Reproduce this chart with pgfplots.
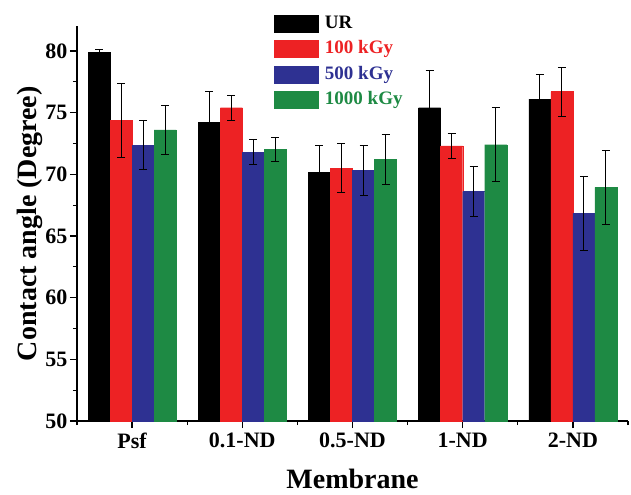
\documentclass[border=0pt]{standalone}
\usepackage{fontspec}
\setmainfont{Liberation Serif}
\usepackage{pgfplots}
\pgfplotsset{compat=1.18}
\definecolor{cred}{RGB}{237,34,36}
\definecolor{cblue}{RGB}{46,49,146}
\definecolor{cgreen}{RGB}{30,138,68}
\begin{document}
\begin{tikzpicture}
\useasboundingbox (-38.5pt,-36.5pt) rectangle (277pt,210.5pt);
\begin{axis}[
 at={(0,0)}, anchor=south west,
 scale only axis, width=275.5pt, height=197.35pt,
 xmin=-0.5, xmax=4.5, ymin=50, ymax=82,
 axis x line=bottom, axis y line=left,
 axis line style={-, line width=0.7pt},
 ybar=0pt, bar width=0.2,
 xtick={0,...,4}, xticklabels={Psf,0.1-ND,0.5-ND,1-ND,2-ND},
 minor xtick={-0.5,0.5,1.5,2.5,3.5,4.5},
 ytick={50,55,...,80}, minor ytick={52.5,57.5,...,77.5},
 tick align=outside, major tick length=3.5pt, minor tick length=2pt,
 tick style={line width=0.6pt, black},
 /pgf/number format/assume math mode=true,
 tick label style={font=\fontsize{11}{13}\selectfont\bfseries},
 yticklabel style={xshift=2.2pt},
 xticklabel style={yshift=1pt},
 xlabel={Membrane}, ylabel={Contact angle (Degree)},
 label style={font=\fontsize{14}{16}\selectfont\bfseries},
 xlabel style={at={(axis description cs:0.5,-0.147)}, anchor=center},
 ylabel style={at={(axis description cs:-0.086,0.5)}, anchor=center},
 legend style={at={(0.356,1.037)}, anchor=north west, draw=none, fill=none,
   font=\fontsize{9.5}{11}\selectfont\bfseries, row sep=0.6pt, inner sep=0pt,
   nodes={inner xsep=3.5pt}},
 legend cell align=left,
 legend image code/.code={\fill[#1] (0pt,-4.25pt) rectangle (22pt,4.25pt);},
 error bars/error bar style={black, line width=0.5pt},
 error bars/error mark options={rotate=90, mark size=2pt, black, line width=0.5pt},
]
\addplot[fill=black, draw=black, line width=0.2pt, error bars/.cd, y dir=both, y explicit]
 coordinates {(0,79.9) +- (0,0.2) (1,74.2) +- (0,2.5) (2,70.15) +- (0,2.2) (3,75.4) +- (0,3.0) (4,76.1) +- (0,2.0)};
\addplot[fill=cred, draw=cred, line width=0.2pt, error bars/.cd, y dir=both, y explicit]
 coordinates {(0,74.4) +- (0,3.0) (1,75.4) +- (0,1.0) (2,70.5) +- (0,2.0) (3,72.3) +- (0,1.0) (4,76.7) +- (0,2.0)};
\addplot[fill=cblue, draw=cblue, line width=0.2pt, error bars/.cd, y dir=both, y explicit]
 coordinates {(0,72.35) +- (0,2.0) (1,71.8) +- (0,1.0) (2,70.3) +- (0,2.0) (3,68.6) +- (0,2.0) (4,66.85) +- (0,3.0)};
\addplot[fill=cgreen, draw=cgreen, line width=0.2pt, error bars/.cd, y dir=both, y explicit]
 coordinates {(0,73.6) +- (0,2.0) (1,72.0) +- (0,1.0) (2,71.2) +- (0,2.0) (3,72.4) +- (0,3.0) (4,68.95) +- (0,3.0)};
\legend{UR, \textcolor{cred}{100 kGy}, \textcolor{cblue}{500 kGy}, \textcolor{cgreen}{1000 kGy}}
\end{axis}
\end{tikzpicture}
\end{document}
